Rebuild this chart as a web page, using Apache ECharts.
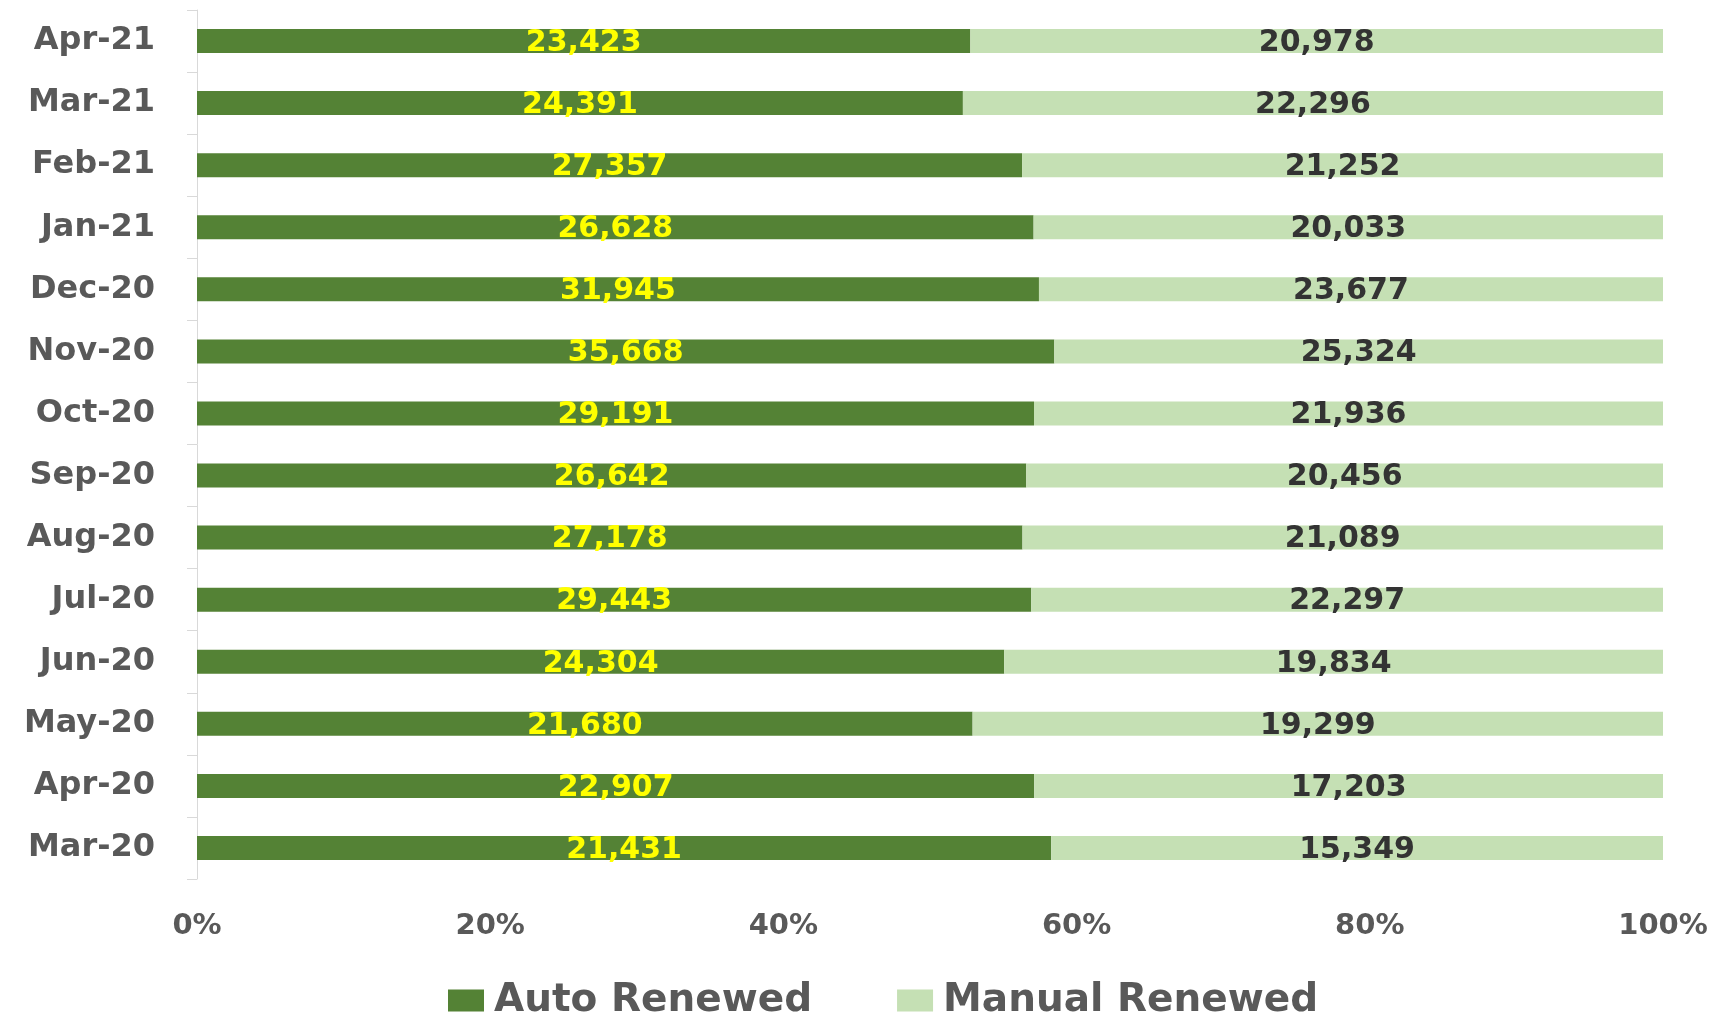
<!DOCTYPE html>
<html>
<head>
<meta charset="utf-8">
<script src="https://cdn.jsdelivr.net/npm/echarts@6/dist/echarts.min.js"></script>
<style>html,body{margin:0;padding:0;background:#fff}#c{width:1731px;height:1015px}</style>
</head>
<body>
<div id="c"></div>
<script>
const categories = ['Mar-20','Apr-20','May-20','Jun-20','Jul-20','Aug-20','Sep-20','Oct-20','Nov-20','Dec-20','Jan-21','Feb-21','Mar-21','Apr-21'];
const autoRenewed = [21431,22907,21680,24304,29443,27178,26642,29191,35668,31945,26628,27357,24391,23423];
const manualRenewed = [15349,17203,19299,19834,22297,21089,20456,21936,25324,23677,20033,21252,22296,20978];
const xTicks = [0,20,40,60,80,100];

const totals = autoRenewed.map((v,i)=>v+manualRenewed[i]);
const autoPct = autoRenewed.map((v,i)=>({value:v/totals[i]*100, raw:v}));
const manualPct = manualRenewed.map((v,i)=>({value:v/totals[i]*100, raw:v}));
const fmt = p => p.data.raw.toLocaleString('en-US');
const FONT = 'DejaVu Sans';

const chart = echarts.init(document.getElementById('c'));
chart.setOption({
  animation:false,
  grid:{left:197,right:68,top:10,bottom:136},
  legend:{
    top:976, left:443, itemGap:85, itemWidth:36, itemHeight:22,
    icon:'rect',
    textStyle:{fontFamily:FONT,fontSize:39,lineHeight:39,color:'#595959',fontWeight:'bold',padding:[0,0,0,5]},
    data:['Auto Renewed','Manual Renewed']
  },
  xAxis:{
    type:'value', min:0, max:100, interval:20,
    axisLine:{show:false}, axisTick:{show:false}, splitLine:{show:false},
    axisLabel:{formatter:v=>xTicks.includes(v)?v+'%':'', margin:33, fontFamily:FONT, fontSize:29, fontWeight:'bold', color:'#595959'}
  },
  yAxis:{
    type:'category', data:categories,
    axisLine:{show:true,lineStyle:{color:'#d9d9d9',width:1}},
    axisTick:{show:true,length:10,lineStyle:{color:'#d9d9d9'}},
    axisLabel:{margin:42,fontFamily:FONT,fontSize:32,fontWeight:'bold',color:'#595959'}
  },
  series:[
    {name:'Auto Renewed',type:'bar',stack:'t',data:autoPct,barWidth:24,
     itemStyle:{color:'#548235'},
     label:{show:true,position:'inside',formatter:fmt,fontFamily:FONT,fontSize:30,fontWeight:'bold',color:'#ffff00',offset:[0,2]}},
    {name:'Manual Renewed',type:'bar',stack:'t',data:manualPct,barWidth:24,
     itemStyle:{color:'#c5e0b4'},
     label:{show:true,position:'inside',formatter:fmt,fontFamily:FONT,fontSize:30,fontWeight:'bold',color:'#333333',offset:[0,2]}}
  ]
});
</script>
</body>
</html>
